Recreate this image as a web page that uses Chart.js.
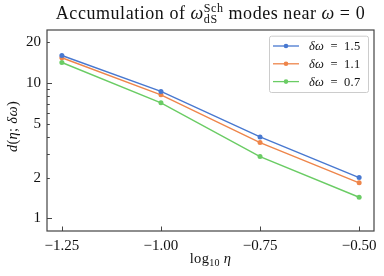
<!DOCTYPE html>
<html><head><meta charset="utf-8">
<script src="https://cdn.jsdelivr.net/npm/chart.js@4"></script>
<style>html,body{margin:0;padding:0;background:#fff;} #wrap{width:384px;height:276px;position:relative}</style>
</head><body><div id="wrap"><canvas id="c" width="384" height="276"></canvas></div>
<script>
const xValues = [-1.25, -1.00, -0.75, -0.50];
const seriesA = [16.0, 8.67, 4.0, 2.0];    // δω = 1.5
const seriesB = [15.4, 8.19, 3.63, 1.83];  // δω = 1.1
const seriesC = [14.2, 7.15, 2.86, 1.43];  // δω = 0.7
const seriesNames = ['1.5', '1.1', '0.7'];
const xTicks = [-1.25, -1.00, -0.75, -0.50];
const yLabelTicks = [1, 2, 5, 10, 20];
const yMajorTicks = [1, 10];
const yMinorTicks = [2, 3, 4, 5, 6, 7, 8, 9, 20];

const colors = ['#4878d0', '#ee854a', '#6acc64'];
const SERIF = '"Liberation Serif", "DejaVu Serif", serif';
const AX = '#444';

function mkData(arr){ return xValues.map((x,i)=>({x:x, y:arr[i]})); }
const all = [seriesA, seriesB, seriesC];

function drawSegs(ctx, segs, cx, baseY, align, spacing){
  const ls = (spacing||0) + 'px';
  if ('letterSpacing' in ctx) ctx.letterSpacing = ls;
  let total = 0;
  const widths = segs.map(s=>{
    if (s.stack){
      let w = 0;
      s.stack.forEach(t=>{ctx.font=t.font; w=Math.max(w, ctx.measureText(t.text).width);});
      return w;
    }
    ctx.font = s.font; return ctx.measureText(s.text).width;
  });
  widths.forEach(w=>total+=w);
  let x = align==='center' ? cx - total/2 : cx;
  ctx.textBaseline = 'alphabetic'; ctx.textAlign = 'left';
  segs.forEach((s,i)=>{
    if (s.stack){
      s.stack.forEach(t=>{ctx.font=t.font; ctx.fillText(t.text, x, baseY + t.dy);});
    } else {
      ctx.font = s.font; ctx.fillText(s.text, x, baseY + (s.dy||0));
    }
    x += widths[i];
  });
  if ('letterSpacing' in ctx) ctx.letterSpacing = '0px';
}

const decor = {
  id: 'decor',
  afterDraw(chart){
    const ctx = chart.ctx, a = chart.chartArea;
    const xs = chart.scales.x, ys = chart.scales.y;
    ctx.save();
    ctx.strokeStyle = AX; ctx.lineWidth = 1;
    ctx.beginPath();
    xTicks.forEach(v=>{ const px = Math.round(xs.getPixelForValue(v))+0.5; ctx.moveTo(px, a.bottom); ctx.lineTo(px, a.bottom-4.5); });
    yMajorTicks.forEach(v=>{ const py = Math.round(ys.getPixelForValue(v))+0.5; ctx.moveTo(a.left, py); ctx.lineTo(a.left+5, py); });
    yMinorTicks.forEach(v=>{ const py = Math.round(ys.getPixelForValue(v))+0.5; ctx.moveTo(a.left, py); ctx.lineTo(a.left+2.8, py); });
    ctx.stroke();
    ctx.lineWidth = 1.2; ctx.strokeStyle = AX;
    ctx.strokeRect(a.left, a.top, a.right-a.left, a.bottom-a.top);
    ctx.fillStyle = '#111';
    const R17 = '18px '+SERIF, I17 = 'italic 18px '+SERIF, R12 = '12px '+SERIF;
    drawSegs(ctx, [
      {text:'Accumulation of ', font:R17},
      {text:'ω', font:I17},
      {stack:[{text:'Sch', font:R12, dy:-7.5},{text:'dS', font:R12, dy:4}]},
      {text:' modes near ', font:R17},
      {text:'ω', font:I17},
      {text:' = 0', font:R17}
    ], (a.left+a.right)/2, 19, 'center', 0.55);
    const R14 = '14.5px '+SERIF, I14 = 'italic 14.5px '+SERIF, R10 = '10px '+SERIF;
    drawSegs(ctx, [
      {text:'log', font:R14},
      {text:'10', font:R10, dy:3},
      {text:' ', font:R14},
      {text:'η', font:I14}
    ], (a.left+a.right)/2, 263, 'center', 0.3);
    ctx.save();
    ctx.translate(17, (a.top+a.bottom)/2 - 4);
    ctx.rotate(-Math.PI/2);
    drawSegs(ctx, [
      {text:'d', font:I14},
      {text:'(', font:R14},
      {text:'η', font:I14},
      {text:'; ', font:R14},
      {text:'δω', font:I14},
      {text:')', font:R14}
    ], 0, 0, 'center', 0.3);
    ctx.restore();
    const lx = 269, ly = 35.7, lw = 99, lh = 56.3;
    ctx.beginPath();
    if (ctx.roundRect) ctx.roundRect(lx+0.5, ly+0.5, lw, lh, 2); else ctx.rect(lx+0.5, ly+0.5, lw, lh);
    ctx.fillStyle = 'rgba(255,255,255,0.85)'; ctx.fill();
    ctx.strokeStyle = '#cccccc'; ctx.lineWidth = 1; ctx.stroke();
    const I11 = 'italic 12.5px '+SERIF, R11 = '12.5px '+SERIF;
    seriesNames.forEach((n,i)=>{
      const cy = 46 + i*17.8;
      ctx.strokeStyle = colors[i]; ctx.lineWidth = 1.3;
      ctx.beginPath(); ctx.moveTo(273, cy); ctx.lineTo(299, cy); ctx.stroke();
      ctx.fillStyle = colors[i];
      ctx.beginPath(); ctx.arc(286, cy, 2.3, 0, Math.PI*2); ctx.fill();
      ctx.fillStyle = '#111';
      drawSegs(ctx, [{text:'δω', font:I11},{text:' \u2009= \u2009'+n, font:R11}], 309, cy+4.2, 'left', 0.3);
    });
    ctx.restore();
  }
};

new Chart(document.getElementById('c'), {
  type: 'line',
  data: {
    datasets: all.map((arr,i)=>({
      label: 'δω = '+seriesNames[i],
      data: mkData(arr),
      borderColor: colors[i],
      backgroundColor: colors[i],
      borderWidth: 1.4,
      pointRadius: 2.5,
      pointBorderWidth: 0,
      pointHoverRadius: 2.5,
      tension: 0,
      fill: false
    }))
  },
  options: {
    responsive: false,
    animation: false,
    devicePixelRatio: 1,
    layout: { padding: { left: 0, right: 10, top: 30, bottom: 0 } },
    plugins: { legend: { display: false }, title: { display: false }, tooltip: { enabled: false } },
    scales: {
      x: {
        type: 'linear', min: -1.2875, max: -0.4625,
        grid: { display: false, drawTicks: false },
        border: { display: false },
        afterBuildTicks(s){ s.ticks = xTicks.map(v=>({value:v})); },
        afterFit(s){ s.height = 45; },
        ticks: {
          padding: 6, color: '#111', maxRotation: 0, autoSkip: false,
          font: { family: SERIF, size: 15 },
          callback: v => v.toFixed(2).replace('-', '\u2212')
        }
      },
      y: {
        type: 'logarithmic', min: 0.805, max: 24.7,
        grid: { display: false, drawTicks: false },
        border: { display: false },
        afterBuildTicks(s){ s.ticks = yLabelTicks.map(v=>({value:v})); },
        afterFit(s){ s.width = 47; },
        ticks: {
          padding: 6, color: '#111', autoSkip: false,
          font: { family: SERIF, size: 15 },
          callback: v => String(v)
        }
      }
    }
  },
  plugins: [decor]
});
</script>
</body></html>
